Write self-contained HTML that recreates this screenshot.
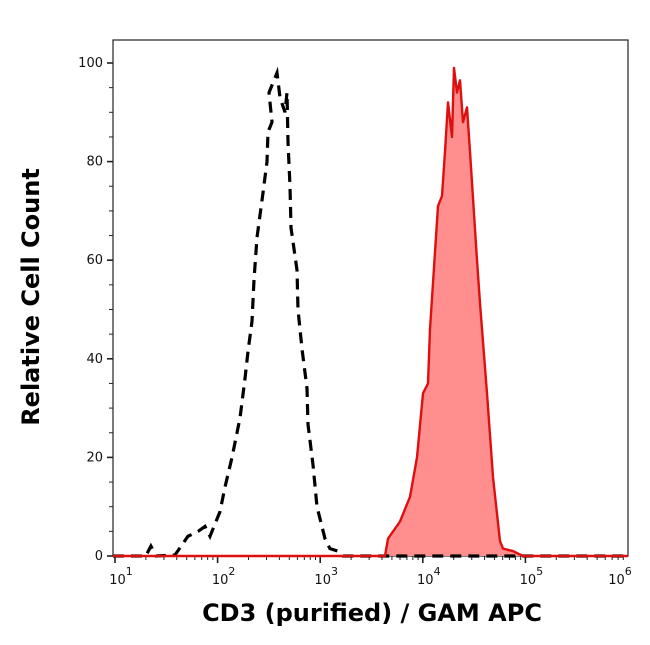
<!DOCTYPE html>
<html><head><meta charset="utf-8"><style>
body{margin:0;background:#fff;}
svg{display:block;font-family:"DejaVu Sans","Liberation Sans",sans-serif;}
</style></head><body>
<svg id="chart" width="650" height="645" viewBox="0 0 650 645" xmlns="http://www.w3.org/2000/svg">
<defs><clipPath id="pc"><rect x="113" y="30" width="515" height="528"/></clipPath></defs>
<rect x="113" y="40" width="515" height="516" fill="none" stroke="#222" stroke-width="1.2"/>
<g id="ticks"></g>
<g id="series" clip-path="url(#pc)"></g>
<text transform="translate(39,297) rotate(-90)" text-anchor="middle" font-family="DejaVu Sans, sans-serif" font-weight="bold" font-size="24" fill="#000">Relative Cell Count</text>
<text x="372" y="621" text-anchor="middle" font-family="DejaVu Sans, sans-serif" font-weight="bold" font-size="24" fill="#000">CD3 (purified) / GAM APC</text>
</svg>
<script>
// x values are log10 of fluorescence intensity
const xTickExps = [1,2,3,4,5,6];
const yTickLabels = [0,20,40,60,80,100];
const isoLogX = [0.98,1.3,1.35,1.4,1.585,1.711,1.809,1.877,1.926,2.023,2.072,2.140,2.218,2.267,2.296,2.335,2.355,2.384,2.442,2.481,2.491,2.530,2.501,2.579,2.608,2.657,2.676,2.686,2.706,2.715,2.774,2.784,2.823,2.871,2.881,2.930,2.969,3.047,3.095,3.173,3.222,6.0];
const isoCount = [0,0,2,0,0.2,4,5,6,4,9,14,20,28,36,41.5,47.6,56,64.6,73.5,80,86,88,94,98,93,90,94,84,75,66.6,58,50,42,34,26.7,18.5,10,3.5,1.5,1,0,0];
const stainLogX = [0.98,3.632,3.661,3.778,3.875,3.943,4.002,4.051,4.070,4.148,4.187,4.216,4.246,4.285,4.304,4.333,4.363,4.392,4.431,4.460,4.528,4.558,4.626,4.684,4.752,4.782,4.879,4.977,6.0];
const stainCount = [0,0,3.5,7,12,20,33,35,46,71,73,82,92,85,99,94,96.5,88,91,82,60,51,33,16,3,1.5,1,0,0];

const X0=115, XD=102.6, Y0=556, YS=4.93;
const sx = v => X0 + (v-1)*XD;
const sy = v => Y0 - v*YS;
const NS='http://www.w3.org/2000/svg';
const tg=document.getElementById('ticks'), sg=document.getElementById('series');
function mk(tag, attrs, parent){const e=document.createElementNS(NS,tag);for(const k in attrs)e.setAttribute(k,attrs[k]);parent.appendChild(e);return e;}

for(let v=0; v<=100; v+=5){
  const major = v%20===0;
  const t=mk('line',{x1:113-(major?6:4),x2:113,y1:sy(v),y2:sy(v),stroke:'#222','stroke-width':major?1.6:1},tg);
  
  
}
yTickLabels.forEach(v=>{
  const t=mk('text',{x:103,y:sy(v)+4,'text-anchor':'end','font-size':13,fill:'#111'},tg);
  t.textContent=v;
  
  
});
for(let d=0; d<=5; d++){
  for(let m=1;m<=9;m++){
    const lv=d+Math.log10(m);
    if(lv<0.98||lv>6.001) continue;
    const major=m===1;
    const t=mk('line',{x1:sx(lv),x2:sx(lv),y1:556,y2:556+(major?7:4),stroke:'#222','stroke-width':major?1.6:1},tg);
    
    
  }
}
xTickExps.forEach(e=>{
  const t=mk('text',{x:sx(e)+(e===6?-8:6),y:584,'text-anchor':'middle','font-size':13,fill:'#111'},tg);
  t.textContent='10';
  
  
  const s=mk('tspan',{dy:-9,'font-size':11},t);
  s.textContent=e;
});
let d='M'+sx(stainLogX[0])+','+sy(0);
stainLogX.forEach((v,i)=>{d+=' L'+sx(v).toFixed(1)+','+sy(stainCount[i]).toFixed(1);});
d+=' L'+sx(stainLogX[stainLogX.length-1])+','+sy(0)+' Z';
const area=mk('path',{d:d,fill:'#ff8f8f',stroke:'none'},sg);


let d2='';
isoLogX.forEach((v,i)=>{d2+=(i?' L':'M')+sx(v).toFixed(1)+','+sy(isoCount[i]).toFixed(1);});
const iso=mk('path',{d:d2,fill:'none',stroke:'#000','stroke-width':3.2,'stroke-dasharray':'11 7'},sg);


let d3='';
stainLogX.forEach((v,i)=>{d3+=(i?' L':'M')+sx(v).toFixed(1)+','+sy(stainCount[i]).toFixed(1);});
const ln=mk('path',{d:d3,fill:'none',stroke:'#dd0f0f','stroke-width':2.4,'stroke-linejoin':'round'},sg);


</script>
</body></html>
